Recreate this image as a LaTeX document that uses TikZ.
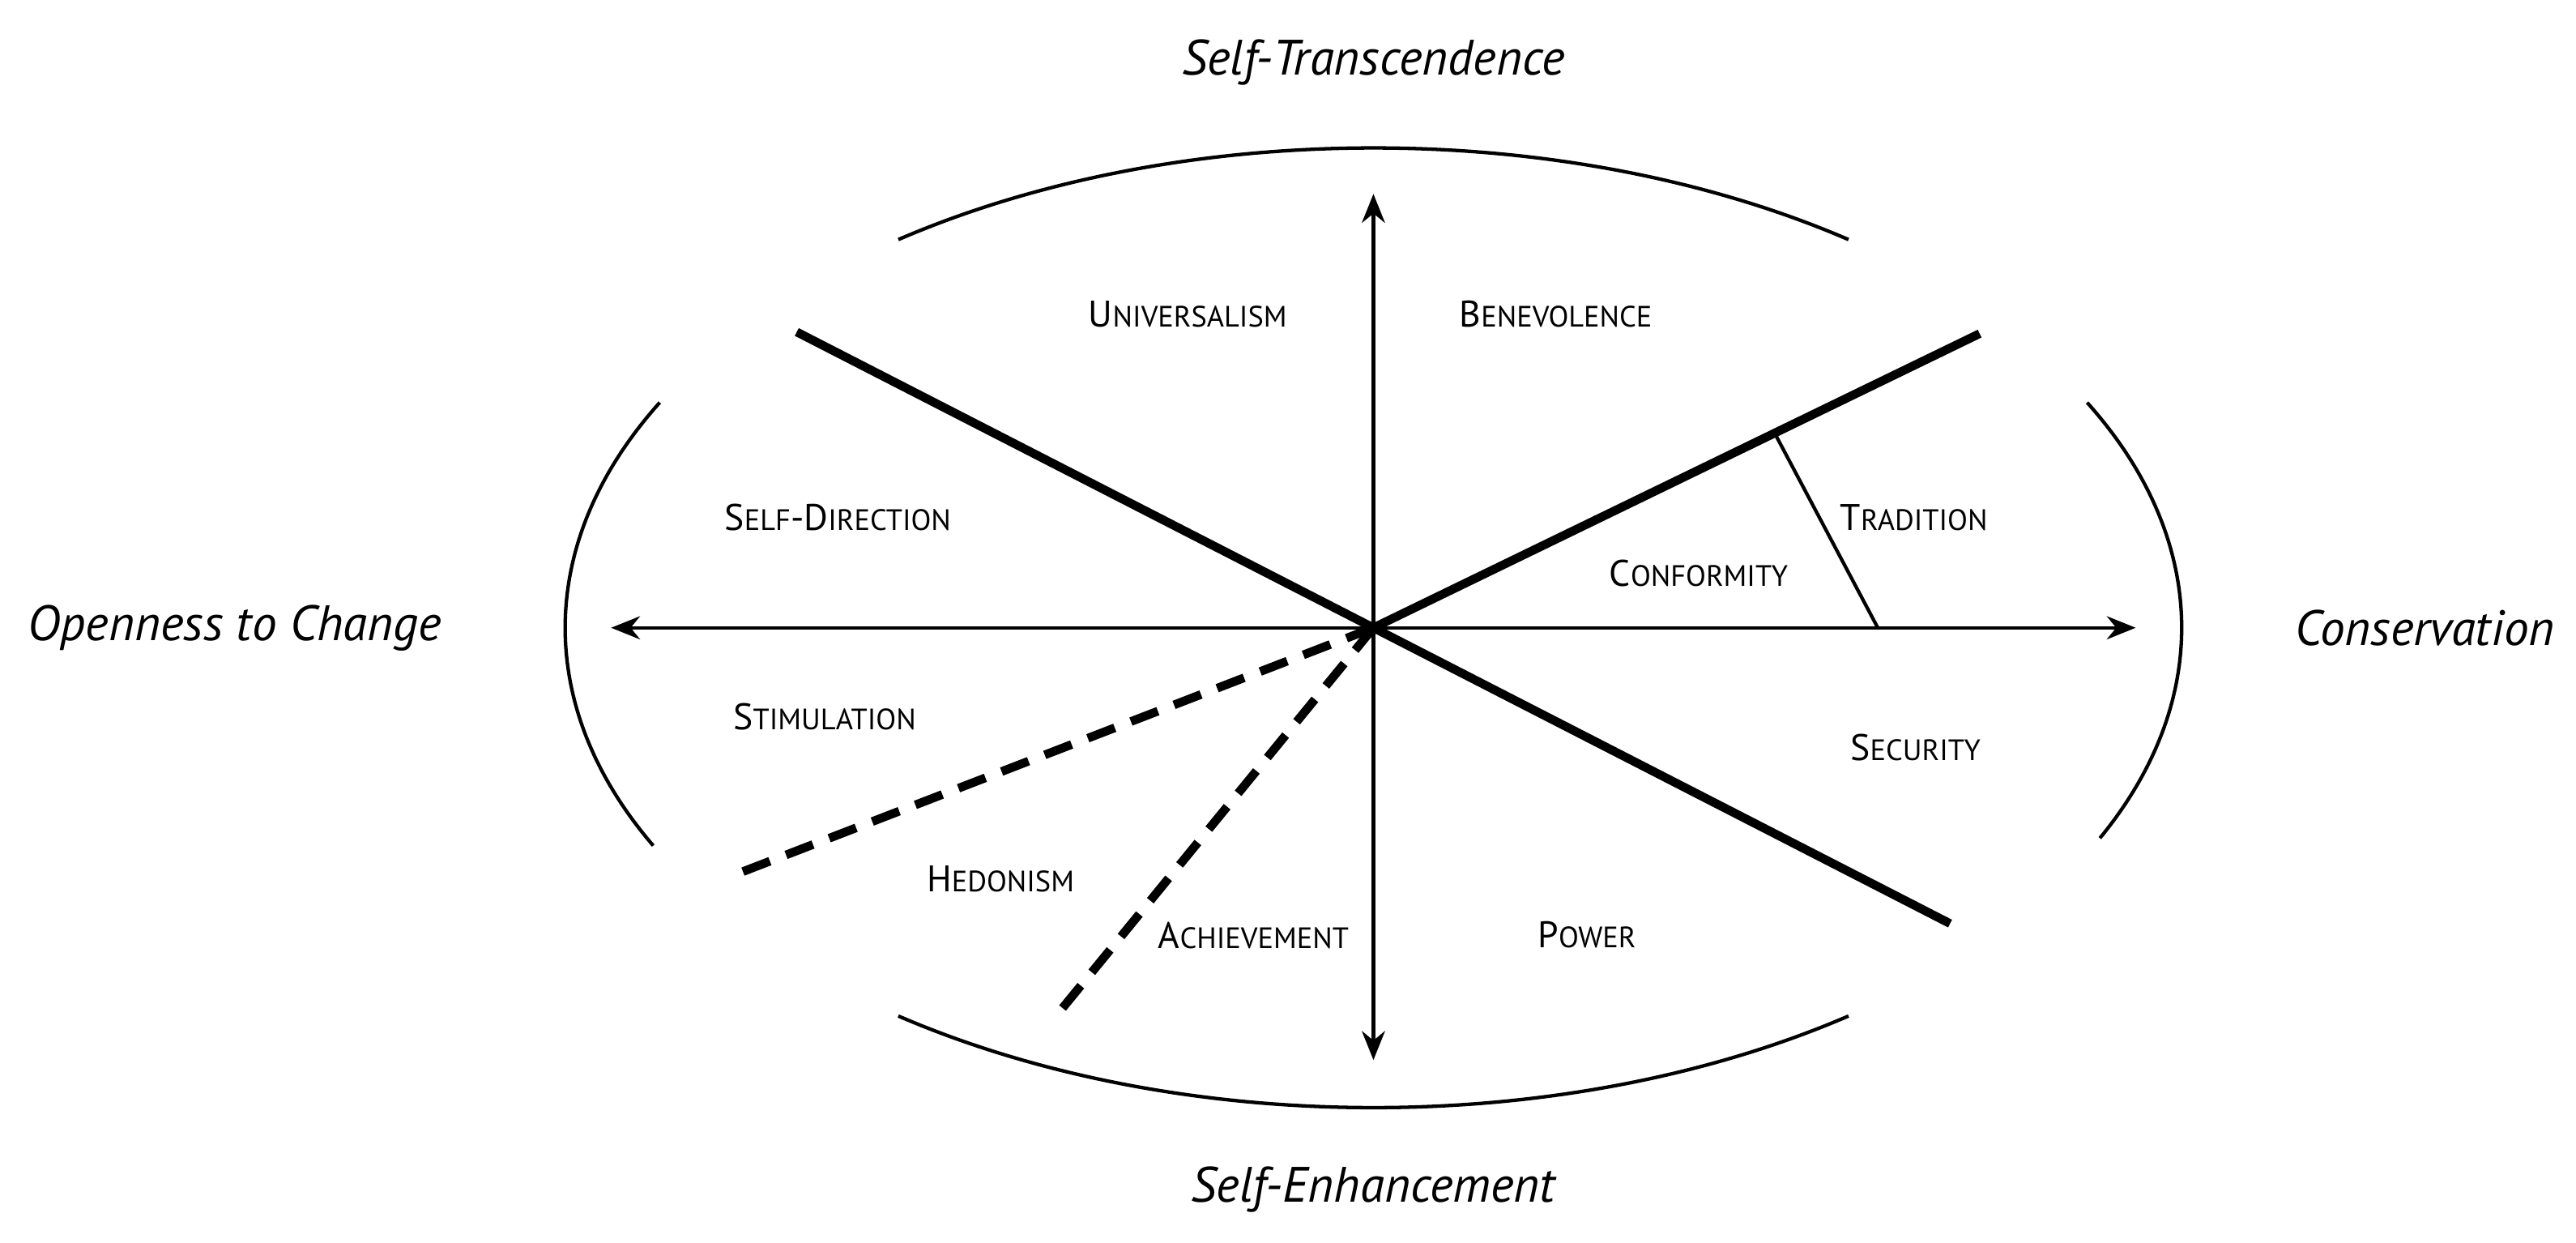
\documentclass[tikz,border=0pt]{standalone}
\usetikzlibrary{arrows.meta}
\usepackage{fontspec}
\setmainfont{PT Sans}
\begin{document}
\newcommand\scw[2]{{\fontsize{6.4}{7}\selectfont #1}{\fontsize{5.1}{6}\selectfont #2}}
\begin{tikzpicture}[x=0.01cm,y=-0.01cm,
  thin line/.style={line width=0.6pt},
  thick line/.style={line width=1.5pt},
  dash line/.style={line width=1.5pt,dash pattern=on 5pt off 3pt},
  arr/.style={thin line,-{Stealth[length=5pt,width=4pt]}},
  axis/.style={font=\fontsize{8.6}{10}\selectfont\itshape},
  val/.style={inner sep=0pt}]
\useasboundingbox (0,0) rectangle (1568,756);
\coordinate (c) at (836,382);
\coordinate (up) at (836,118);
\coordinate (dn) at (836,645);
\coordinate (lf) at (372,382);
\coordinate (rt) at (1300,382);
\coordinate (ul) at (485,202);
\coordinate (lr) at (1187,562);
\coordinate (ur) at (1205,203);
\coordinate (t1) at (1081,265);
\coordinate (t2) at (1143,382);
\coordinate (d1) at (448,532);
\coordinate (d2) at (643,618);
\draw[arr] (c) -- (up);
\draw[arr] (c) -- (dn);
\draw[arr] (c) -- (lf);
\draw[arr] (c) -- (rt);
\draw[thick line] (ul) -- (lr);
\draw[thick line] (c) -- (ur);
\draw[thin line] (t1) -- (t2);
\draw[dash line] (c) -- (d1);
\draw[dash line] (c) -- (d2);
\draw[thin line] (c) ++(126:492 and -292) arc[start angle=126,end angle=54,x radius=492,y radius=-292];
\draw[thin line] (c) ++(234:492 and -292) arc[start angle=234,end angle=306,x radius=492,y radius=-292];
\draw[thin line] (c) ++(152:492 and -292) arc[start angle=152,end angle=207,x radius=492,y radius=-292];
\draw[thin line] (c) ++(28:492 and -292) arc[start angle=28,end angle=-26,x radius=492,y radius=-292];
\node[axis] (st) at (836,38) {Self-Transcendence};
\node[axis] (se) at (836,724) {Self-Enhancement};
\node[axis] (oc) at (143,382) {Openness to Change};
\node[axis] (cv) at (1476,382) {Conservation};
\node[val] (un) at (723,191) {\scw{U}{NIVERSALISM}};
\node[val] (be) at (947,191) {\scw{B}{ENEVOLENCE}};
\node[val] (sd) at (510,315) {\scw{S}{ELF}\scw{-D}{IRECTION}};
\node[val] (tr) at (1165,315) {\scw{T}{RADITION}};
\node[val] (co) at (1034,349) {\scw{C}{ONFORMITY}};
\node[val] (sti) at (502,436) {\scw{S}{TIMULATION}};
\node[val] (sec) at (1166,455) {\scw{S}{ECURITY}};
\node[val] (he) at (609,535) {\scw{H}{EDONISM}};
\node[val] (ac) at (763,569) {\scw{A}{CHIEVEMENT}};
\node[val] (po) at (966,569) {\scw{P}{OWER}};
\end{tikzpicture}
\end{document}
